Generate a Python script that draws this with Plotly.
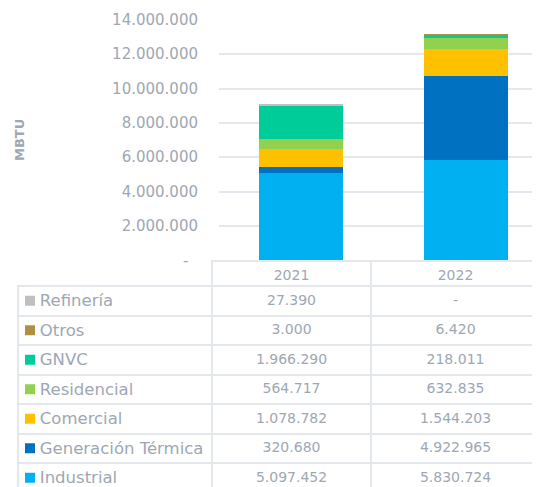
import plotly.graph_objects as go

years = ["2021", "2022"]
series_names = ["Industrial", "Generación Térmica", "Comercial", "Residencial", "GNVC", "Otros", "Refinería"]
industrial = [5097452, 5830724]
generacion_termica = [320680, 4922965]
comercial = [1078782, 1544203]
residencial = [564717, 632835]
gnvc = [1966290, 218011]
otros = [3000, 6420]
refineria = [27390, 0]
colors = ["#00b0f0", "#0070c0", "#ffc000", "#92d050", "#00cc99", "#b08f40", "#bfbfbf"]
tick_vals = [0, 2000000, 4000000, 6000000, 8000000, 10000000, 12000000, 14000000]
tick_text = ["-\u00a0\u00a0", "2.000.000", "4.000.000", "6.000.000", "8.000.000",
             "10.000.000", "12.000.000", "14.000.000"]

series_values = [industrial, generacion_termica, comercial, residencial, gnvc, otros, refineria]

FONT = "DejaVu Sans"
TXT = "#9ea7b3"
GRID = "#e4e8ec"
OFF = 8                      # page body margin of the html page
W, H = 540 - OFF, 487 - OFF  # figure size so that it fills the window


def px_x(p):
    return (p - OFF) / W


def px_y(p):
    return 1 - (p - OFF) / H


def fmt(v):
    if v == 0:
        return "-"
    return f"{v:,}".replace(",", ".")


fig = go.Figure()
for name, vals, col in zip(series_names, series_values, colors):
    fig.add_trace(go.Bar(
        x=years, y=vals, name=name, marker=dict(color=col, line=dict(width=0)),
        width=0.51, xaxis="x", yaxis="y",
    ))

# data table (rows top to bottom = reverse stacking order)
order = list(range(len(series_names)))[::-1]
row_names = [series_names[i] for i in order]
row_colors = [colors[i] for i in order]
label_col = ["\u00a0\u00a0\u2009" + n.replace(" ", "\u00a0") for n in row_names]
col2021 = [fmt(series_values[i][0]) for i in order]
col2022 = [fmt(series_values[i][1]) for i in order]

table_top = 261
header_h = 25
row_h = 29.5
fig.add_trace(go.Table(
    domain=dict(x=[px_x(18), 1], y=[0, px_y(table_top)]),
    columnwidth=[194, 159, 169],
    header=dict(
        values=["", years[0], years[1]],
        align=["left", "center", "center"],
        height=header_h,
        fill=dict(color=["rgba(0,0,0,0)", "white", "white"]),
        line=dict(color=["rgba(0,0,0,0)", GRID, GRID], width=2),
        font=dict(family=FONT, size=14, color=TXT),
    ),
    cells=dict(
        values=[label_col, col2021, col2022],
        align=["left", "center", "center"],
        height=row_h,
        fill=dict(color="rgba(0,0,0,0)"),
        line=dict(color=GRID, width=2),
        font=dict(family=FONT, size=[16.5, 14, 14], color=TXT),
    ),
))

# colour keys in the label column (overlay axes in pixel units)
k_top = (table_top - (table_top + header_h + row_h / 2)) / row_h
k_bot = (487 - (table_top + header_h + row_h / 2)) / row_h
fig.add_trace(go.Scatter(
    x=[30] * len(row_names), y=row_names, mode="markers", xaxis="x2", yaxis="y2",
    marker=dict(symbol="square", size=10, color=row_colors, line=dict(width=0)),
    hoverinfo="skip",
))

fig.update_layout(
    width=W, height=H,
    margin=dict(l=0, r=0, t=0, b=0, autoexpand=False),
    paper_bgcolor="white", plot_bgcolor="rgba(0,0,0,0)",
    barmode="stack", showlegend=False,
    font=dict(family=FONT, color=TXT),
    xaxis=dict(domain=[px_x(219), 1], type="category", range=[-0.497, 1.448], automargin=False,
               showticklabels=False, showgrid=False, zeroline=False, showline=False, ticks=""),
    yaxis=dict(domain=[px_y(260.3), px_y(19.8)], range=[0, 14000000], automargin=False,
               tickvals=tick_vals, ticktext=tick_text, showgrid=True, gridcolor=GRID, gridwidth=2,
               zeroline=False, showline=False, ticks="", ticklabelstandoff=20,
               tickfont=dict(family=FONT, size=15, color=TXT)),
    xaxis2=dict(domain=[0, 1], range=[OFF, 540], visible=False, automargin=False),
    yaxis2=dict(domain=[0, px_y(table_top)], type="category", categoryarray=row_names,
                range=[k_bot, k_top], visible=False, automargin=False),
    annotations=[dict(text="<b>MBTU</b>", xref="paper", yref="paper", x=px_x(19), y=px_y(140),
                      xanchor="center", yanchor="middle",
                      textangle=-90, showarrow=False, font=dict(family=FONT, size=13, color=TXT))],
)

fig.write_html("out.html")
